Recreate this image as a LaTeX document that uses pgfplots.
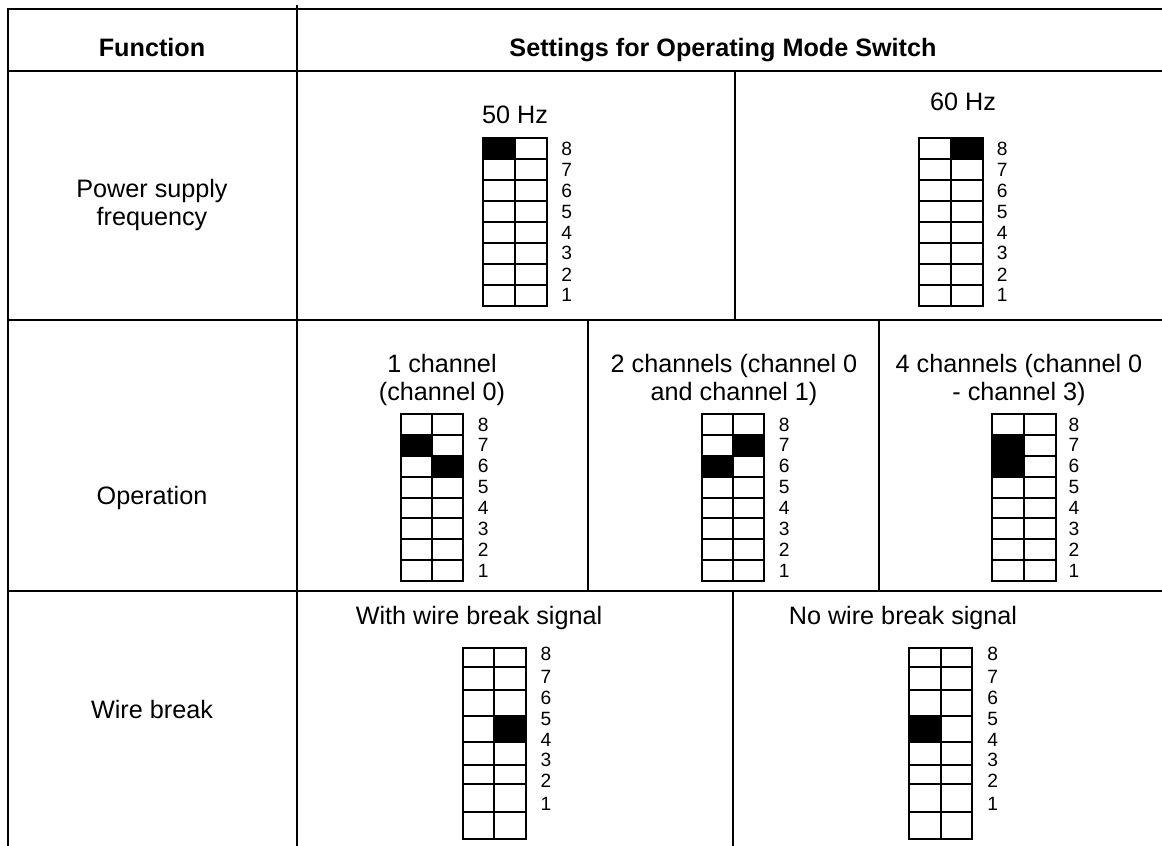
\documentclass[border=0pt]{standalone}
\usepackage{fontspec}
\setmainfont{Liberation Sans}
\usepackage{pgfplots}
\pgfplotsset{compat=1.18}

% 1 unit = 1 px of the reference, y grows downwards
\newcommand{\txt}{\fontsize{12.6}{14}\selectfont}
\newcommand{\dig}{\fontsize{9.6}{10}\selectfont}

\begin{document}
\begin{tikzpicture}
\begin{axis}[
    width=581pt, height=423pt, scale only axis,
    xmin=0, xmax=1162, ymin=0, ymax=846, y dir=reverse,
    hide axis,
    unbounded coords=jump,
    every axis plot/.append style={line width=1pt, line cap=rect, line join=miter},
  ]
% background (keeps the bounding box)
\addplot[fill=white, draw=none] coordinates {(0,0) (1162,0) (1162,846) (0,846)};

% switch positions that are set (black cells)
\addplot[fill=black, draw=none] coordinates {(483.3,138.3) (515,138.3) (515,159.2) (483.3,159.2)};
\addplot[fill=black, draw=none] coordinates {(951,138.3) (982.7,138.3) (982.7,159.2) (951,159.2)};
\addplot[fill=black, draw=none] coordinates {(400.7,434.9) (432.3,434.9) (432.3,455.8) (400.7,455.8)};
\addplot[fill=black, draw=none] coordinates {(432.3,455.8) (463.3,455.8) (463.3,476.6) (432.3,476.6)};
\addplot[fill=black, draw=none] coordinates {(733.3,434.9) (764.3,434.9) (764.3,455.8) (733.3,455.8)};
\addplot[fill=black, draw=none] coordinates {(702,455.8) (733.3,455.8) (733.3,476.6) (702,476.6)};
\addplot[fill=black, draw=none] coordinates {(992.3,434.9) (1024,434.9) (1024,476.6) (992.3,476.6)};
\addplot[fill=black, draw=none] coordinates {(494,716) (526,716) (526,742) (494,742)};
\addplot[fill=black, draw=none] coordinates {(909.3,716) (941,716) (941,742) (909.3,742)};

% table rules
\addplot[black] coordinates {
  (7.5,9) (1162,9) (nan,nan)
  (7.5,9) (7.5,846) (nan,nan)
  (297,6) (297,846) (nan,nan)
  (7.5,71) (1162,71) (nan,nan)
  (7.5,320) (1162,320) (nan,nan)
  (7.5,591) (1162,591) (nan,nan)
  (735,71) (735,320) (nan,nan)
  (588,320) (588,591) (nan,nan)
  (879,320) (879,591) (nan,nan)
  (733,591) (733,846)
};

% switch grids, row 1 (50 Hz, 60 Hz)
\addplot[black] coordinates {
  (483.3,138.3) (547.3,138.3) (547.3,305.7) (483.3,305.7) (483.3,138.3) (nan,nan)
  (515,138.3) (515,305.7) (nan,nan)
  (483.3,159.2) (547.3,159.2) (nan,nan) (483.3,180.2) (547.3,180.2) (nan,nan)
  (483.3,201.1) (547.3,201.1) (nan,nan) (483.3,222.0) (547.3,222.0) (nan,nan)
  (483.3,242.9) (547.3,242.9) (nan,nan) (483.3,263.9) (547.3,263.9) (nan,nan)
  (483.3,284.8) (547.3,284.8)
};
\addplot[black] coordinates {
  (919.3,138.3) (982.7,138.3) (982.7,305.7) (919.3,305.7) (919.3,138.3) (nan,nan)
  (951,138.3) (951,305.7) (nan,nan)
  (919.3,159.2) (982.7,159.2) (nan,nan) (919.3,180.2) (982.7,180.2) (nan,nan)
  (919.3,201.1) (982.7,201.1) (nan,nan) (919.3,222.0) (982.7,222.0) (nan,nan)
  (919.3,242.9) (982.7,242.9) (nan,nan) (919.3,263.9) (982.7,263.9) (nan,nan)
  (919.3,284.8) (982.7,284.8)
};

% switch grids, row 2 (1, 2, 4 channels)
\addplot[black] coordinates {
  (400.7,414) (463.3,414) (463.3,581) (400.7,581) (400.7,414) (nan,nan)
  (432.3,414) (432.3,581) (nan,nan)
  (400.7,434.9) (463.3,434.9) (nan,nan) (400.7,455.8) (463.3,455.8) (nan,nan)
  (400.7,476.6) (463.3,476.6) (nan,nan) (400.7,497.5) (463.3,497.5) (nan,nan)
  (400.7,518.4) (463.3,518.4) (nan,nan) (400.7,539.3) (463.3,539.3) (nan,nan)
  (400.7,560.1) (463.3,560.1)
};
\addplot[black] coordinates {
  (702,414) (764.3,414) (764.3,581) (702,581) (702,414) (nan,nan)
  (733.3,414) (733.3,581) (nan,nan)
  (702,434.9) (764.3,434.9) (nan,nan) (702,455.8) (764.3,455.8) (nan,nan)
  (702,476.6) (764.3,476.6) (nan,nan) (702,497.5) (764.3,497.5) (nan,nan)
  (702,518.4) (764.3,518.4) (nan,nan) (702,539.3) (764.3,539.3) (nan,nan)
  (702,560.1) (764.3,560.1)
};
\addplot[black] coordinates {
  (992.3,414) (1055.7,414) (1055.7,581) (992.3,581) (992.3,414) (nan,nan)
  (1024,414) (1024,581) (nan,nan)
  (992.3,434.9) (1055.7,434.9) (nan,nan) (1024,455.8) (1055.7,455.8) (nan,nan)
  (992.3,476.6) (1055.7,476.6) (nan,nan) (992.3,497.5) (1055.7,497.5) (nan,nan)
  (992.3,518.4) (1055.7,518.4) (nan,nan) (992.3,539.3) (1055.7,539.3) (nan,nan)
  (992.3,560.1) (1055.7,560.1)
};

% switch grids, row 3 (wire break)
\addplot[black] coordinates {
  (462.7,648.3) (526,648.3) (526,838.7) (462.7,838.7) (462.7,648.3) (nan,nan)
  (494,648.3) (494,838.7) (nan,nan)
  (462.7,667.3) (526,667.3) (nan,nan) (462.7,690) (526,690) (nan,nan)
  (462.7,716) (526,716) (nan,nan) (462.7,742) (526,742) (nan,nan)
  (462.7,765.3) (526,765.3) (nan,nan) (462.7,784) (526,784) (nan,nan)
  (462.7,812) (526,812)
};
\addplot[black] coordinates {
  (909.3,648.3) (972.3,648.3) (972.3,838.7) (909.3,838.7) (909.3,648.3) (nan,nan)
  (941,648.3) (941,838.7) (nan,nan)
  (909.3,667.3) (972.3,667.3) (nan,nan) (909.3,690) (972.3,690) (nan,nan)
  (909.3,716) (972.3,716) (nan,nan) (909.3,742) (972.3,742) (nan,nan)
  (909.3,765.3) (972.3,765.3) (nan,nan) (909.3,784) (972.3,784) (nan,nan)
  (909.3,812) (972.3,812)
};

% header
\node[anchor=base] at (152,56) {\txt\bfseries Function};
\node[anchor=base] at (723,56) {\txt\bfseries Settings for Operating Mode Switch};

% first column
\node[anchor=base] at (152,197) {\txt Power supply};
\node[anchor=base] at (152,225) {\txt frequency};
\node[anchor=base] at (152,504) {\txt Operation};
\node[anchor=base] at (152,718) {\txt Wire break};

% cell titles
\node[anchor=base] at (515,123) {\txt 50 Hz};
\node[anchor=base] at (963,110) {\txt 60 Hz};
\node[anchor=base] at (442,372) {\txt 1 channel};
\node[anchor=base] at (442,400) {\txt (channel 0)};
\node[anchor=base] at (734,372) {\txt 2 channels (channel 0};
\node[anchor=base] at (734,400) {\txt and channel 1)};
\node[anchor=base] at (1019,372) {\txt 4 channels (channel 0};
\node[anchor=base] at (1019,400) {\txt - channel 3)};
\node[anchor=base] at (479,624) {\txt With wire break signal};
\node[anchor=base] at (903,624) {\txt No wire break signal};

% switch numbers
\foreach \n/\y in {8/148.8,7/169.7,6/190.6,5/211.5,4/232.4,3/253.3,2/274.3,1/295.2} {
  \edef\temp{\noexpand\node at (566.7,\y) {\noexpand\dig\n};
    \noexpand\node at (1002.3,\y) {\noexpand\dig\n};}\temp
}
\foreach \n/\y in {8/424.4,7/445.3,6/466.2,5/487.1,4/508.0,3/528.9,2/549.7,1/570.6} {
  \edef\temp{\noexpand\node at (483.3,\y) {\noexpand\dig\n};
    \noexpand\node at (784.3,\y) {\noexpand\dig\n};
    \noexpand\node at (1074,\y) {\noexpand\dig\n};}\temp
}
\foreach \n/\y in {8/654.3,7/676.7,6/697.7,5/719,4/740,3/760,2/780.7,1/804} {
  \edef\temp{\noexpand\node at (546,\y) {\noexpand\dig\n};
    \noexpand\node at (992.7,\y) {\noexpand\dig\n};}\temp
}
\end{axis}
\end{tikzpicture}
\end{document}
